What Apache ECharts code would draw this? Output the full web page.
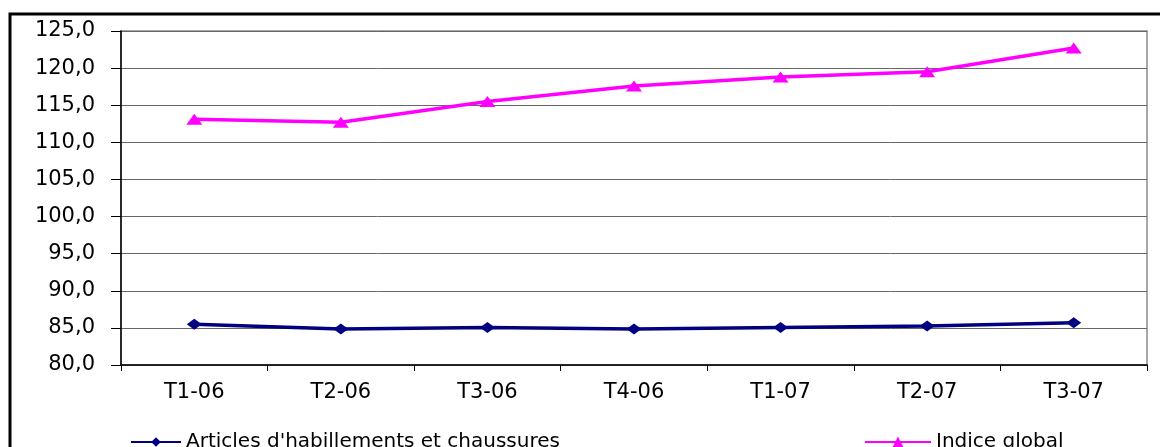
<!DOCTYPE html>
<html>
<head>
<meta charset="utf-8">
<script src="https://cdn.jsdelivr.net/npm/echarts@6/dist/echarts.min.js"></script>
<style>html,body{margin:0;padding:0;background:#fff;}#c{width:1160px;height:447px;}</style>
</head>
<body>
<div id="c"></div>
<script>
const categories = ['T1-06','T2-06','T3-06','T4-06','T1-07','T2-07','T3-07'];
const articlesName = "Articles d'habillements et chaussures";
const articlesValues = [85.5, 84.85, 85.05, 84.85, 85.05, 85.25, 85.7];
const globalName = 'Indice global';
const globalValues = [113.1, 112.7, 115.5, 117.6, 118.8, 119.5, 122.7];
const yMin = 80, yMax = 125, yStep = 5;

const FONT = 'DejaVu Sans';
const chart = echarts.init(document.getElementById('c'), null, {renderer: 'canvas'});
chart.setOption({
  animation: false,
  backgroundColor: '#fff',
  graphic: [{
    type: 'rect', silent: true, z: 100,
    shape: {x: 10, y: 14, width: 1300, height: 600},
    style: {fill: 'none', stroke: '#000', lineWidth: 3}
  }],
  grid: {left: 121, top: 31, right: 13, bottom: 82, show: true, borderColor: '#8a8a8a', borderWidth: 1.5},
  legend: [{
    left: 125, top: 427, itemWidth: 50, itemHeight: 12,
    data: [articlesName],
    textStyle: {fontFamily: FONT, fontSize: 20, color: '#000'}
  }, {
    left: 859, top: 427, itemWidth: 66, itemHeight: 14,
    data: [globalName],
    textStyle: {fontFamily: FONT, fontSize: 20, color: '#000'}
  }],
  xAxis: {
    type: 'category', data: categories, boundaryGap: true,
    axisLine: {lineStyle: {color: '#000', width: 1.5}},
    axisTick: {show: true, length: 6, alignWithLabel: false, lineStyle: {color: '#000'}},
    axisLabel: {fontFamily: FONT, fontSize: 21, color: '#000', margin: 17}
  },
  yAxis: {
    type: 'value', min: yMin, max: yMax, interval: yStep,
    axisLine: {show: true, lineStyle: {color: '#000', width: 1.5}},
    axisTick: {show: true, length: 10, lineStyle: {color: '#000'}},
    axisLabel: {fontFamily: FONT, fontSize: 21, color: '#000', margin: 26,
      formatter: v => v.toFixed(1).replace('.', ',')},
    splitLine: {lineStyle: {color: '#666', width: 1}}
  },
  series: [{
    name: articlesName, type: 'line', data: articlesValues,
    symbol: 'diamond', symbolSize: [15, 11],
    lineStyle: {color: '#000080', width: 3.5},
    itemStyle: {color: '#000080'}
  }, {
    name: globalName, type: 'line', data: globalValues,
    symbol: 'triangle', symbolSize: [16, 11],
    lineStyle: {color: '#ff00ff', width: 3.5},
    itemStyle: {color: '#ff00ff'}
  }]
});
</script>
</body>
</html>
